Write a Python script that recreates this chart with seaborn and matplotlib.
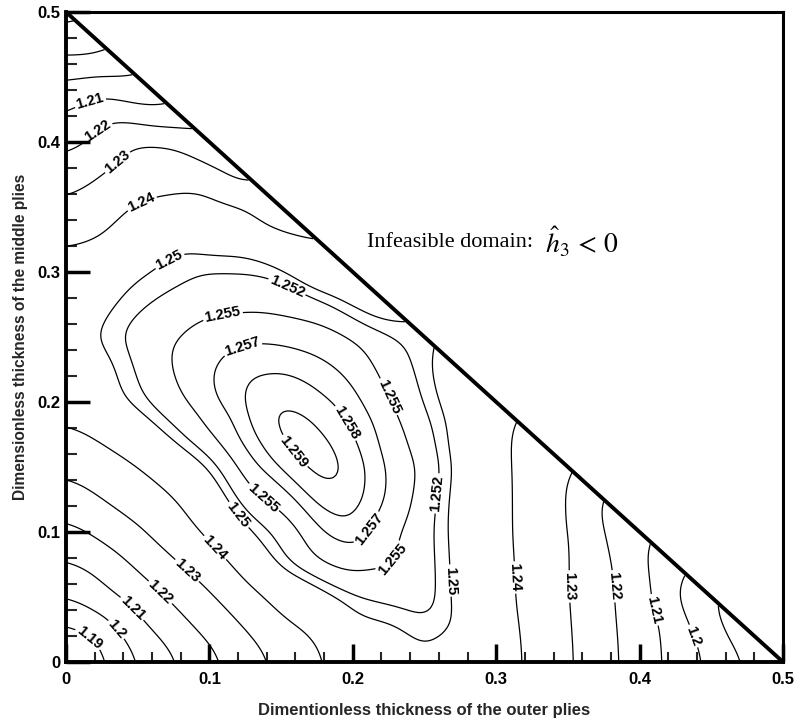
import numpy as np
import pandas as pd
import matplotlib
matplotlib.use("Agg")
import matplotlib.pyplot as plt
import matplotlib.tri as mtri
import seaborn as sns
from matplotlib.ticker import MultipleLocator, FixedLocator, FixedFormatter

# ---------------- data ----------------
total_thickness = 0.5          # feasible domain: outer + middle <= 0.5
grid_x = [0.00, 0.05, 0.10, 0.15, 0.20, 0.25, 0.30, 0.35, 0.40, 0.45, 0.50]
grid_y = [0.00, 0.05, 0.10, 0.15, 0.20, 0.25, 0.30, 0.35, 0.40, 0.45, 0.50]

ratio_y000 = [1.1750, 1.1992, 1.2165, 1.2316, 1.2446, 1.2490, 1.2450, 1.2314, 1.2155, 1.1982, 1.1820]
ratio_y005 = [1.1992, 1.2142, 1.2288, 1.2435, 1.2521, 1.2538, 1.2435, 1.2305, 1.2143, 1.1870]
ratio_y010 = [1.2165, 1.2288, 1.2418, 1.2528, 1.2579, 1.2535, 1.2428, 1.2305, 1.2100]
ratio_y015 = [1.2316, 1.2400, 1.2505, 1.2583, 1.2586, 1.2547, 1.2428, 1.2300]
ratio_y020 = [1.2435, 1.2515, 1.2568, 1.2590, 1.2577, 1.2520, 1.2425]
ratio_y025 = [1.2477, 1.2535, 1.2564, 1.2568, 1.2553, 1.2502]
ratio_y030 = [1.2445, 1.2497, 1.2522, 1.2515, 1.2435]
ratio_y035 = [1.2314, 1.2410, 1.2435, 1.2310]
ratio_y040 = [1.2161, 1.2305, 1.2170]
ratio_y045 = [1.1983, 1.1970]
ratio_y050 = [1.1740]
ratio_rows = [ratio_y000, ratio_y005, ratio_y010, ratio_y015, ratio_y020, ratio_y025,
              ratio_y030, ratio_y035, ratio_y040, ratio_y045, ratio_y050]

# extra readings between grid nodes (outer, middle, ratio)
extra_x   = [0.170, 0.152, 0.188, 0.160, 0.180, 0.125, 0.225, 0.215, 0.125, 0.175, 0.075,
             0.125, 0.225, 0.125, 0.150, 0.175, 0.200, 0.200, 0.175, 0.150, 0.125, 0.100,
             0.100, 0.075, 0.175, 0.200, 0.225, 0.200, 0.175, 0.150, 0.125, 0.225, 0.250,
             0.175, 0.125,
             0.125, 0.075, 0.100, 0.050, 0.025, 0.075, 0.125, 0.075, 0.125, 0.175,
             0.025, 0.075, 0.125, 0.175, 0.225, 0.275, 0.325, 0.375, 0.425, 0.475]
extra_y   = [0.168, 0.190, 0.145, 0.180, 0.155, 0.175, 0.125, 0.185, 0.225, 0.125, 0.175,
             0.125, 0.075, 0.200, 0.225, 0.200, 0.175, 0.125, 0.100, 0.125, 0.150, 0.175,
             0.225, 0.225, 0.225, 0.225, 0.150, 0.075, 0.075, 0.075, 0.100, 0.200, 0.175,
             0.250, 0.250,
             0.350, 0.375, 0.375, 0.375, 0.425, 0.400, 0.325, 0.325, 0.300, 0.275,
             0.475, 0.425, 0.375, 0.325, 0.275, 0.225, 0.175, 0.125, 0.075, 0.025]
extra_val = [1.2598, 1.2595, 1.2595, 1.2597, 1.2597, 1.2577, 1.2570, 1.2572, 1.2580, 1.2584, 1.2515,
             1.2540, 1.2553, 1.2582, 1.2580, 1.2583, 1.2580, 1.2585, 1.2570, 1.2562, 1.2565, 1.2552,
             1.2570, 1.2553, 1.2576, 1.2567, 1.2570, 1.2562, 1.2552, 1.2515, 1.2495, 1.2553, 1.2535,
             1.2563, 1.2569,
             1.2405, 1.2366, 1.2350, 1.2360, 1.2165, 1.2298, 1.2478, 1.2492, 1.2521, 1.2535,
             1.1850, 1.2075, 1.2237, 1.2372, 1.2460, 1.2458, 1.2360, 1.2168, 1.2017, 1.1830]

contour_levels = [1.18, 1.19, 1.20, 1.21, 1.22, 1.23, 1.24, 1.25, 1.252, 1.255, 1.257, 1.258, 1.259]

# label spots (layout only) for each labelled level
label_spots = {
    1.19:  [(0.015, 0.017)],
    1.20:  [(0.033, 0.023), (0.440, 0.021)],
    1.21:  [(0.047, 0.042), (0.018, 0.427), (0.410, 0.040)],
    1.22:  [(0.067, 0.055), (0.022, 0.409), (0.379, 0.058)],
    1.23:  [(0.085, 0.071), (0.033, 0.388), (0.344, 0.058)],
    1.24:  [(0.104, 0.088), (0.050, 0.360), (0.313, 0.065)],
    1.25:  [(0.119, 0.112), (0.068, 0.317), (0.275, 0.063)],
    1.252: [(0.153, 0.286), (0.256, 0.130)],
    1.255: [(0.109, 0.269), (0.217, 0.200), (0.139, 0.128), (0.238, 0.071)],
    1.257: [(0.122, 0.246), (0.220, 0.096)],
    1.258: [(0.191, 0.181)],
    1.259: [(0.158, 0.161)],
}

tick_values = [0.0, 0.1, 0.2, 0.3, 0.4, 0.5]
tick_labels = ["0", "0.1", "0.2", "0.3", "0.4", "0.5"]
x_label = "Dimentionless thickness of the outer plies"
y_label = "Dimensionless thickness of the middle plies"
note_words = "Infeasible domain:"
note_math = r"$\hat{h}_{\mathit{3}}\,<\,\mathit{0}$"

# ---------------- build table ----------------
rows = []
for yv, row in zip(grid_y, ratio_rows):
    for xv, val in zip(grid_x, row):
        rows.append((xv, yv, val))
for xv, yv, val in zip(extra_x, extra_y, extra_val):
    rows.append((xv, yv, val))
df = pd.DataFrame(rows, columns=["outer", "middle", "ratio"])

# ---------------- field on a fine mesh (linear + light smoothing) ----------------
tri = mtri.Triangulation(df["outer"].values, df["middle"].values)
lin = mtri.LinearTriInterpolator(tri, df["ratio"].values)
n_mesh = 251
xs = np.linspace(0, total_thickness, n_mesh)
XX, YY = np.meshgrid(xs, xs)
ZL = lin(XX, YY)
inside = (~np.ma.getmaskarray(ZL)).astype(float)
Z0 = np.where(inside > 0, np.ma.getdata(ZL), 0.0)


def _smooth(A, sigma_pts):
    r = int(3 * sigma_pts)
    k = np.exp(-0.5 * (np.arange(-r, r + 1) / sigma_pts) ** 2)
    k /= k.sum()
    A = np.apply_along_axis(lambda v: np.convolve(v, k, mode="same"), 0, A)
    A = np.apply_along_axis(lambda v: np.convolve(v, k, mode="same"), 1, A)
    return A


num = _smooth(Z0 * inside, 4.5)
den = _smooth(inside, 4.5)
ZS = np.ma.masked_where(inside == 0, num / np.maximum(den, 1e-9))

# ---------------- style ----------------
sns.set_theme(style="white")
plt.rcParams["font.family"] = ["Liberation Sans", "DejaVu Sans"]
plt.rcParams["mathtext.fontset"] = "stix"

fig = plt.figure(figsize=(7.95, 7.24), dpi=100)
ax = fig.add_axes([66 / 795, 1 - 662 / 724, (783 - 66) / 795, (662 - 12) / 724])

for lev in contour_levels:
    cs = ax.contour(XX, YY, ZS, levels=[lev], colors="black", linewidths=0.9)
    spots = label_spots.get(lev)
    if spots:
        try:
            texts = ax.clabel(cs, manual=spots, fmt="%g", fontsize=10.5,
                              inline=True, inline_spacing=2)
            for t in texts:
                t.set_fontweight("bold")
        except Exception:
            pass

# domain boundary
ax.plot([0, total_thickness], [total_thickness, 0], color="black", lw=2.8, solid_capstyle="butt")

ax.set_xlim(0, total_thickness)
ax.set_ylim(0, total_thickness)
for name, sp in ax.spines.items():
    sp.set_color("black")
    sp.set_linewidth(2.8 if name in ("left", "bottom") else 2.2)
    sp.set_visible(True)

ax.xaxis.set_major_locator(FixedLocator(tick_values))
ax.xaxis.set_major_formatter(FixedFormatter(tick_labels))
ax.yaxis.set_major_locator(FixedLocator(tick_values))
ax.yaxis.set_major_formatter(FixedFormatter(tick_labels))
ax.xaxis.set_minor_locator(MultipleLocator(0.02))
ax.yaxis.set_minor_locator(MultipleLocator(0.02))
ax.tick_params(axis="x", which="major", direction="in", length=13, width=2.5, pad=7,
               bottom=True, top=False, labelsize=12, colors="black")
ax.tick_params(axis="x", which="minor", direction="in", length=7, width=1.5, bottom=True, top=False)
ax.tick_params(axis="y", which="major", direction="in", length=17, width=2.5, pad=4,
               left=True, right=False, labelsize=12, colors="black")
ax.tick_params(axis="y", which="minor", direction="in", length=8, width=1.5, left=True, right=False)
for lab in ax.get_xticklabels() + ax.get_yticklabels():
    lab.set_fontweight("bold")

ax.set_xlabel(x_label, fontsize=12, fontweight="bold", labelpad=12)
ax.set_ylabel(y_label, fontsize=11.2, fontweight="bold", labelpad=7)

ax.text(0.21, 0.323, note_words, fontsize=16, family=["Liberation Serif", "DejaVu Serif"],
        ha="left", va="center", color="black")
ax.text(0.334, 0.323, note_math, fontsize=20, family=["Liberation Serif", "DejaVu Serif"],
        ha="left", va="center", color="black")

fig.savefig("out.png", dpi=100, facecolor="white")
